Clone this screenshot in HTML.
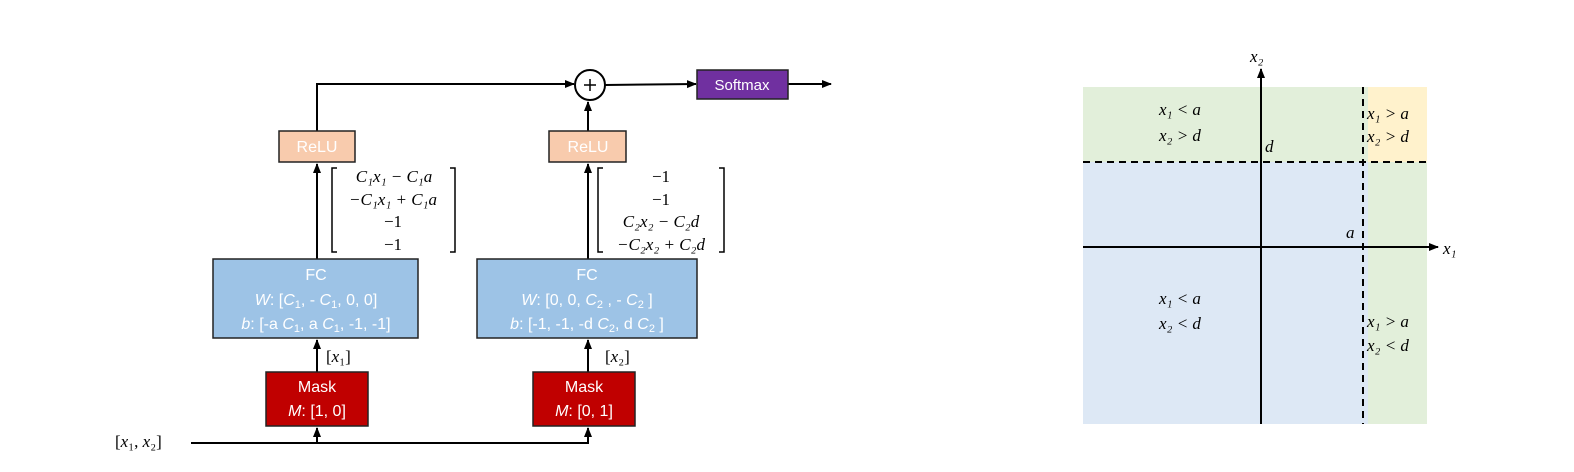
<!DOCTYPE html>
<html><head><meta charset="utf-8"><style>
body{margin:0;background:#fff;}
svg{display:block;}
.m{font-family:"Liberation Serif",serif;font-size:17px;fill:#000;}
.i{font-style:italic;}
.s{font-family:"Liberation Sans",sans-serif;fill:#fff;}
</style></head><body>
<svg width="1574" height="472" viewBox="0 0 1574 472" xmlns="http://www.w3.org/2000/svg">
<defs><marker id="ar" markerWidth="10" markerHeight="10" refX="9" refY="5" orient="auto" markerUnits="userSpaceOnUse"><path d="M0,1 L10,5 L0,9 z" fill="#000"/></marker></defs>
<g stroke="#000" stroke-width="2" fill="none">
<!-- bottom input line -->
<polyline points="191,443 588,443 588,428" marker-end="url(#ar)"/>
<line x1="317" y1="443" x2="317" y2="428" marker-end="url(#ar)"/>
<line x1="317" y1="372" x2="317" y2="340" marker-end="url(#ar)"/>
<line x1="588" y1="372" x2="588" y2="340" marker-end="url(#ar)"/>
<line x1="317" y1="259" x2="317" y2="164" marker-end="url(#ar)"/>
<line x1="588" y1="259" x2="588" y2="164" marker-end="url(#ar)"/>
<polyline points="317,131 317,84 574,84" marker-end="url(#ar)"/>
<line x1="588" y1="131" x2="588" y2="102" marker-end="url(#ar)"/>
<line x1="605" y1="85" x2="696" y2="84" marker-end="url(#ar)"/>
<line x1="788" y1="84" x2="831" y2="84" marker-end="url(#ar)"/>
<circle cx="590" cy="85" r="15" fill="#fff"/>
<line x1="584" y1="85" x2="596" y2="85" stroke-width="1.5"/>
<line x1="590" y1="79" x2="590" y2="91" stroke-width="1.5"/>
<!-- brackets -->
<polyline points="337,168 332,168 332,252 337,252" stroke-width="1.5"/>
<polyline points="450,168 455,168 455,252 450,252" stroke-width="1.5"/>
<polyline points="603,168 598,168 598,252 603,252" stroke-width="1.5"/>
<polyline points="719,168 724,168 724,252 719,252" stroke-width="1.5"/>
</g>
<!-- boxes -->
<g stroke="#222" stroke-width="1.5">
<rect x="279" y="131" width="76" height="31" fill="#f8cbad"/>
<rect x="549" y="131" width="77" height="31" fill="#f8cbad"/>
<rect x="213" y="259" width="205" height="79" fill="#9dc3e6"/>
<rect x="477" y="259" width="220" height="79" fill="#9dc3e6"/>
<rect x="266" y="372" width="102" height="54" fill="#c00000"/>
<rect x="533" y="372" width="102" height="54" fill="#c00000"/>
<rect x="697" y="70" width="91" height="29" fill="#7030a0"/>
</g>
<g class="s" text-anchor="middle" font-size="16">
<text x="317" y="152">ReLU</text>
<text x="588" y="152">ReLU</text>
<text x="742" y="90" font-size="15">Softmax</text>
<text x="316" y="280">FC</text>
<text x="316" y="305"><tspan font-style="italic">W</tspan>: [<tspan font-style="italic">C</tspan><tspan font-size="11" dy="3">1</tspan><tspan dy="-3">, - </tspan><tspan font-style="italic">C</tspan><tspan font-size="11" dy="3">1</tspan><tspan dy="-3">, 0, 0]</tspan></text>
<text x="316" y="329"><tspan font-style="italic">b</tspan>: [-a <tspan font-style="italic">C</tspan><tspan font-size="11" dy="3">1</tspan><tspan dy="-3">, a </tspan><tspan font-style="italic">C</tspan><tspan font-size="11" dy="3">1</tspan><tspan dy="-3">, -1, -1]</tspan></text>
<text x="587" y="280">FC</text>
<text x="587" y="305"><tspan font-style="italic">W</tspan>: [0, 0, <tspan font-style="italic">C</tspan><tspan font-size="11" dy="3">2</tspan><tspan dy="-3"> , - </tspan><tspan font-style="italic">C</tspan><tspan font-size="11" dy="3">2</tspan><tspan dy="-3"> ]</tspan></text>
<text x="587" y="329"><tspan font-style="italic">b</tspan>: [-1, -1, -d <tspan font-style="italic">C</tspan><tspan font-size="11" dy="3">2</tspan><tspan dy="-3">, d </tspan><tspan font-style="italic">C</tspan><tspan font-size="11" dy="3">2</tspan><tspan dy="-3"> ]</tspan></text>
<text x="317" y="392">Mask</text>
<text x="317" y="416"><tspan font-style="italic">M</tspan>: [1, 0]</text>
<text x="584" y="392">Mask</text>
<text x="584" y="416"><tspan font-style="italic">M</tspan>: [0, 1]</text>
</g>
<!-- matrices -->
<g class="m" text-anchor="middle">
<text x="394" y="182" class="i">C₁x₁ − C₁a</text>
<text x="393" y="205" class="i">−C₁x₁ + C₁a</text>
<text x="393" y="227">−1</text>
<text x="393" y="250">−1</text>
<text x="661" y="182">−1</text>
<text x="661" y="205">−1</text>
<text x="661" y="227" class="i">C₂x₂ − C₂d</text>
<text x="661" y="250" class="i">−C₂x₂ + C₂d</text>
</g>
<g class="m">
<text x="326" y="362">[<tspan font-style="italic">x</tspan>₁]</text>
<text x="605" y="362">[<tspan font-style="italic">x</tspan>₂]</text>
<text x="115" y="447">[<tspan font-style="italic">x</tspan>₁, <tspan font-style="italic">x</tspan>₂]</text>
</g>
<!-- right plot -->
<rect x="1083" y="87" width="285" height="75" fill="#e2efda"/>
<rect x="1368" y="87" width="59" height="75" fill="#fff2cc"/>
<rect x="1083" y="162" width="285" height="262" fill="#dde8f5"/>
<rect x="1368" y="162" width="59" height="262" fill="#e2efda"/>
<g stroke="#000" stroke-width="2" fill="none">
<line x1="1083" y1="162" x2="1427" y2="162" stroke-dasharray="7,5"/>
<line x1="1363" y1="87" x2="1363" y2="424" stroke-dasharray="7,5"/>
<line x1="1261" y1="424" x2="1261" y2="69" marker-end="url(#ar)"/>
<line x1="1083" y1="247" x2="1438" y2="247" marker-end="url(#ar)"/>
</g>
<g class="m i">
<text x="1250" y="62">x₂</text>
<text x="1443" y="254">x₁</text>
<text x="1265" y="152">d</text>
<text x="1346" y="238">a</text>
<text x="1159" y="115">x₁ &lt; a</text>
<text x="1159" y="141">x₂ &gt; d</text>
<text x="1367" y="119">x₁ &gt; a</text>
<text x="1367" y="142">x₂ &gt; d</text>
<text x="1159" y="304">x₁ &lt; a</text>
<text x="1159" y="329">x₂ &lt; d</text>
<text x="1367" y="327">x₁ &gt; a</text>
<text x="1367" y="351">x₂ &lt; d</text>
</g>
</svg>
</body></html>
